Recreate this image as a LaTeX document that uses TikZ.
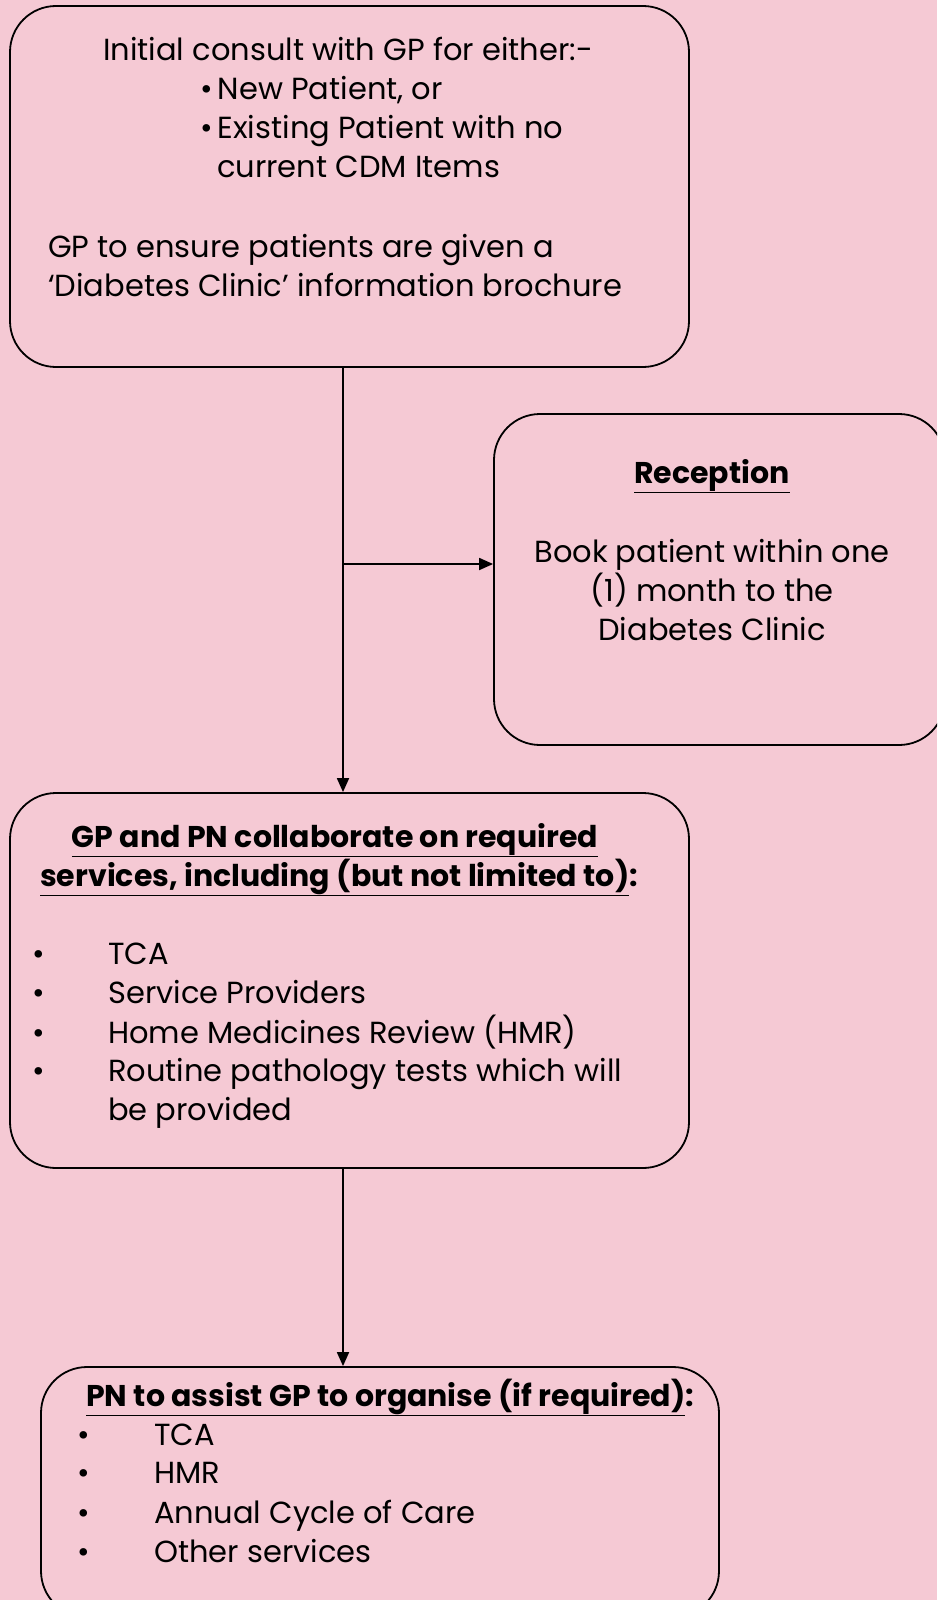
\documentclass[tikz,border=0pt]{standalone}
\usepackage{fontspec}
\setmainfont{Poppins}
\usetikzlibrary{arrows.meta}
\definecolor{bgpink}{RGB}{245,201,212}
\tikzset{
  box/.style={draw=black, line width=1.8pt, rounded corners=46pt, rectangle, inner sep=0pt},
  arr/.style={draw=black, line width=1.8pt, -{Triangle[length=14pt,width=12pt]}},
  txt/.style={inner sep=0pt, font=\fontsize{30.5}{38.8}\selectfont, text=black},
  btxt/.style={inner sep=0pt, font=\fontsize{30}{38.8}\selectfont\bfseries, text=black},
}
\begin{document}
\begin{tikzpicture}[x=1pt,y=-1pt]
\useasboundingbox (0,0) rectangle (937,1600);
\clip (0,0) rectangle (937,1600);
\fill[bgpink] (0,0) rectangle (937,1600);
% boxes
\node[box, minimum width=679pt, minimum height=361pt] (b1) at (349.5,186.5) {};
\node[box, minimum width=451pt, minimum height=331pt] (b2) at (719.5,579.5) {};
\node[box, minimum width=679pt, minimum height=375pt] (b3) at (349.5,980.5) {};
\node[box, minimum width=678pt, minimum height=250pt] (b4) at (380,1492) {};
\coordinate (j) at (343,564);
% connectors
\draw[arr] (j |- b1.south) -- (j |- b3.north);
\draw[arr] (j) -- (j -| b2.west);
\draw[arr] (j |- b3.south) -- (j |- b4.north);
% box 1 text
\node[txt, anchor=base west] (t1a) at (103,61) {Initial consult with GP for either:-};
\node[txt, anchor=base west] (t1b) at (200,100) {\textbullet\hspace{5pt}New Patient, or};
\node[txt, anchor=base west] (t1c) at (200,139) {\textbullet\hspace{5pt}Existing Patient with no};
\node[txt, anchor=base west] (t1d) at (217,177) {current CDM Items};
\node[txt, anchor=base west] (t1e) at (48,257) {GP to ensure patients are given a};
\node[txt, anchor=base west] (t1f) at (48,296) {‘Diabetes Clinic’ information brochure};
% box 2 text
\node[btxt, anchor=base] (t2a) at (712,483) {\underline{Reception}};
\node[txt, anchor=base] (t2b) at (712,562) {Book patient within one};
\node[txt, anchor=base] (t2c) at (712,601) {(1) month to the};
\node[txt, anchor=base] (t2d) at (712,640) {Diabetes Clinic};
% box 3 text
\node[btxt, anchor=base] (t3a) at (335,847) {\underline{GP and PN collaborate on required}};
\node[btxt, anchor=base west] (t3b) at (40,886) {\underline{services, including (but not limited to)}:};
\foreach \yy/\tt [count=\i] in {964/TCA, 1003/Service Providers, 1043/Home Medicines Review (HMR), 1081/Routine pathology tests which will}{
  \node[txt, anchor=base west] (b3d\i) at (32,\yy) {\textbullet};
  \node[txt, anchor=base west] (b3t\i) at (108,\yy) {\tt};
}
\node[txt, anchor=base west] (t3z) at (108,1120) {be provided};
% box 4 text
\node[btxt, anchor=base west] (t4a) at (86,1406) {\underline{PN to assist GP to organise (if required)}:};
\foreach \yy/\tt [count=\i] in {1445/TCA, 1483/HMR, 1523/Annual Cycle of Care, 1562/Other services}{
  \node[txt, anchor=base west] (b4d\i) at (77,\yy) {\textbullet};
  \node[txt, anchor=base west] (b4t\i) at (154,\yy) {\tt};
}
\end{tikzpicture}
\end{document}
